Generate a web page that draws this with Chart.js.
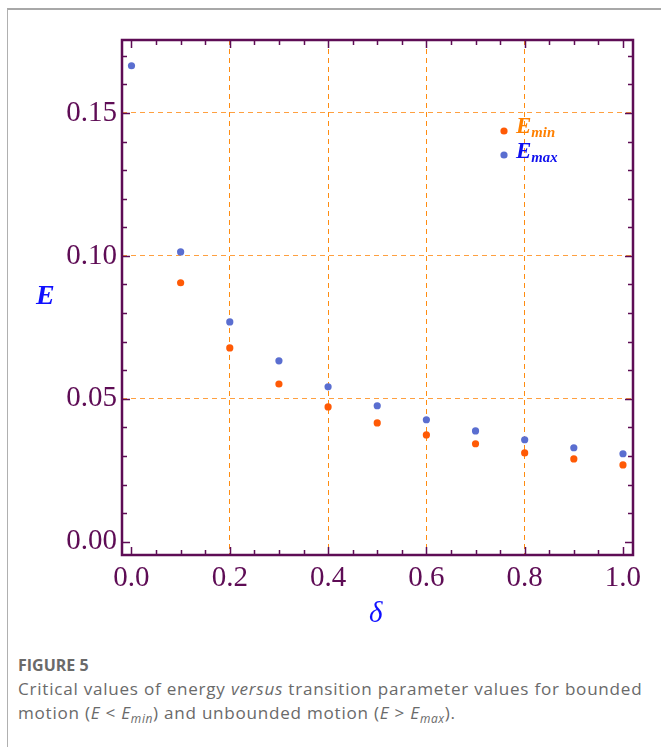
<!DOCTYPE html>
<html>
<head>
<meta charset="utf-8">
<script src="https://cdn.jsdelivr.net/npm/chart.js@4.4.1/dist/chart.umd.min.js"></script>
<style>
  html, body { margin: 0; padding: 0; background: #fff; }
  body { width: 661px; height: 747px; position: relative; overflow: hidden; }
  .frame { position: absolute; left: 7px; top: 8px; width: 660px; height: 745px;
           border-left: 1px solid #b0b0b0; border-top: 2px solid #a8a8a8; }
  #wrap { position: absolute; left: 0; top: 0; width: 661px; height: 640px; }
  .lbl { position: absolute; font-family: "Liberation Serif", serif; font-style: italic; }
  .lbl sub { font-size: 64%; vertical-align: -0.3em; }
  .cap { position: absolute; left: 18px; font-family: "Open Sans", sans-serif; color: #6a6a6a; }
  .cap sub { font-size: 70%; letter-spacing: 0.6px; }
</style>
</head>
<body>
<div class="frame"></div>
<div id="wrap"><canvas id="grafico"></canvas></div>

<div class="lbl" style="left:36px; top:279px; font-size:28px; font-weight:bold; color:#1010ff;">E</div>
<div class="lbl" style="left:369px; top:596px; font-size:29px; color:#1010ff;">δ</div>
<div class="lbl" style="left:516px; top:113px; font-size:23px; font-weight:bold; color:#ff8000;">E<sub>min</sub></div>
<div class="lbl" style="left:516px; top:138px; font-size:23px; font-weight:bold; color:#1010ee;">E<sub>max</sub></div>

<div class="cap" style="top:654px; font-size:16px; font-weight:bold;">FIGURE 5</div>
<div class="cap" style="top:677px; font-size:17.1px; line-height:24px; width:645px; letter-spacing:0.75px;">
  Critical values of energy <i>versus</i> transition parameter values for bounded<br>
  motion (<i>E</i> &lt; <i>E</i><sub><i>min</i></sub>) and unbounded motion (<i>E</i> &gt; <i>E</i><sub><i>max</i></sub>).
</div>

<script>
(function () {
  const roxo = "#5e0c55";

  // dados
  const deltas = [0.0, 0.1, 0.2, 0.3, 0.4, 0.5, 0.6, 0.7, 0.8, 0.9, 1.0];
  const eMax = [0.1665, 0.1014, 0.0769, 0.0633, 0.0542, 0.0476, 0.0427, 0.0388, 0.0357, 0.0329, 0.0308];
  const eMin = [null, 0.0906, 0.0678, 0.0552, 0.0472, 0.0416, 0.0374, 0.0343, 0.0311, 0.0290, 0.0269];

  const xTicks = [0.0, 0.2, 0.4, 0.6, 0.8, 1.0];
  const yTicks = [0.00, 0.05, 0.10, 0.15];
  const xMinor = [0, 0.05, 0.1, 0.15, 0.2, 0.25, 0.3, 0.35, 0.4, 0.45, 0.5, 0.55, 0.6, 0.65, 0.7, 0.75, 0.8, 0.85, 0.9, 0.95, 1.0];
  const yMinor = [0, 0.01, 0.02, 0.03, 0.04, 0.05, 0.06, 0.07, 0.08, 0.09, 0.10, 0.11, 0.12, 0.13, 0.14, 0.15, 0.16, 0.17];

  const ptsMin = deltas.map((d, i) => ({ x: d, y: eMin[i] })).filter(p => p.y !== null);
  const ptsMax = deltas.map((d, i) => ({ x: d, y: eMax[i] }));

  // moldura e marcas internas
  const moldura = {
    id: "moldura",
    afterDraw(chart) {
      const { ctx, chartArea: a, scales: { x, y } } = chart;
      ctx.save();
      ctx.strokeStyle = roxo;
      ctx.lineWidth = 1.5;
      xMinor.forEach(v => {
        const px = Math.round(x.getPixelForValue(v)) + 0.5;
        const len = xTicks.some(t => Math.abs(t - v) < 1e-9) ? 8 : 5;
        ctx.beginPath();
        ctx.moveTo(px, a.bottom); ctx.lineTo(px, a.bottom - len);
        ctx.moveTo(px, a.top); ctx.lineTo(px, a.top + len);
        ctx.stroke();
      });
      yMinor.forEach(v => {
        const py = Math.round(y.getPixelForValue(v)) + 0.5;
        const len = yTicks.some(t => Math.abs(t - v) < 1e-9) ? 8 : 5;
        ctx.beginPath();
        ctx.moveTo(a.left, py); ctx.lineTo(a.left + len, py);
        ctx.moveTo(a.right, py); ctx.lineTo(a.right - len, py);
        ctx.stroke();
      });
      ctx.lineWidth = 2.5;
      ctx.strokeRect(a.left, a.top, a.right - a.left, a.bottom - a.top);
      ctx.restore();
    }
  };

  const gridCor = (cor) => (c) => {
    const v = c.tick ? c.tick.value : null;
    if (v === null) return "rgba(0,0,0,0)";
    return (v === 0 || Math.abs(v - 1) < 1e-9) ? "rgba(0,0,0,0)" : cor;
  };

  new Chart(document.getElementById("grafico"), {
    type: "scatter",
    data: {
      datasets: [
        { label: "Emax", data: ptsMax, backgroundColor: "#5a6ed0", borderWidth: 0, pointRadius: 3.6 },
        { label: "Emin", data: ptsMin, backgroundColor: "#ff5a05", borderWidth: 0, pointRadius: 3.6 }
      ]
    },
    options: {
      responsive: true,
      maintainAspectRatio: false,
      animation: false,
      layout: { padding: { left: 0, top: 40, right: 28, bottom: 0 } },
      plugins: { legend: { display: false }, tooltip: { enabled: false } },
      scales: {
        x: {
          type: "linear", min: -0.0193, max: 1.0204,
          afterBuildTicks: s => { s.ticks = xTicks.map(v => ({ value: v })); },
          afterFit: s => { s.height = 85; },
          border: { display: false, dash: [5, 4] },
          grid: { color: gridCor("#ff8c10"), lineWidth: 1, drawTicks: false },
          ticks: {
            color: roxo, padding: 6,
            font: { family: "Liberation Serif", size: 29 },
            callback: v => Number(v).toFixed(1)
          }
        },
        y: {
          type: "linear", min: -0.0046, max: 0.1755,
          afterBuildTicks: s => { s.ticks = yTicks.map(v => ({ value: v })); },
          afterFit: s => { s.width = 122; },
          border: { display: false, dash: [5, 4] },
          grid: { color: gridCor("#ffa040"), lineWidth: 1, drawTicks: false },
          ticks: {
            color: roxo, padding: 5,
            font: { family: "Liberation Serif", size: 29 },
            callback: v => Number(v).toFixed(2)
          }
        }
      }
    },
    plugins: [moldura]
  });

  // pontos da legenda
  const leg = document.createElement("canvas");
  leg.width = 20; leg.height = 50;
  leg.style.cssText = "position:absolute;left:494px;top:121px;";
  const lc = leg.getContext("2d");
  lc.fillStyle = "#ff5a05"; lc.beginPath(); lc.arc(10, 10, 3.6, 0, Math.PI * 2); lc.fill();
  lc.fillStyle = "#5a6ed0"; lc.beginPath(); lc.arc(10, 34, 3.6, 0, Math.PI * 2); lc.fill();
  document.body.appendChild(leg);
})();
</script>
</body>
</html>
